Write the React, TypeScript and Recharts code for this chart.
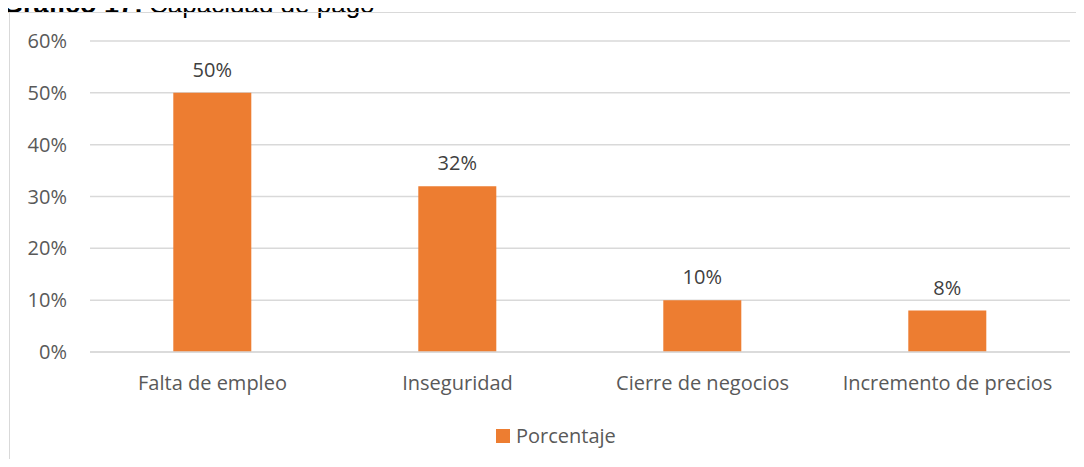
import * as React from "react";
import { Bar, BarChart, CartesianGrid, LabelList, XAxis, YAxis } from "recharts";

const categories = ["Falta de empleo", "Inseguridad", "Cierre de negocios", "Incremento de precios"];
const porcentaje = [0.5, 0.32, 0.1, 0.08];
const yTicks = [0, 0.1, 0.2, 0.3, 0.4, 0.5, 0.6];

const data = categories.map((name, i) => ({ name, porcentaje: porcentaje[i] }));

const pct = (v: number) => `${Math.round(v * 100)}%`;
const FONT = "'Open Sans', sans-serif";

export default function App() {
  return (
    <div style={{ position: "relative", margin: -8, width: 1084, height: 467, overflow: "hidden", background: "#fff" }}>
      <div
        style={{
          position: "absolute",
          left: 2,
          top: -9,
          fontFamily: "'Liberation Sans', Arial, sans-serif",
          fontSize: 26,
          lineHeight: 1,
          color: "#000",
          whiteSpace: "nowrap",
        }}
      >
        <b style={{ fontSize: 27, marginRight: 6 }}>Gráfico 17:</b>Capacidad de pago
      </div>
      <div
        style={{
          position: "absolute",
          left: 9,
          top: 12,
          width: 1200,
          height: 500,
          border: "1px solid #d9d9d9",
          boxSizing: "border-box",
          background: "transparent",
        }}
      />
      <div style={{ position: "absolute", left: 0, top: 0 }}>
        <BarChart
          width={1084}
          height={467}
          data={data}
          margin={{ top: 41, right: 14, bottom: 55, left: 0 }}
          barCategoryGap="34%"
        >
          <CartesianGrid vertical={false} stroke="#d9d9d9" strokeWidth={1.5} />
          <XAxis
            dataKey="name"
            height={60}
            axisLine={{ stroke: "#d9d9d9", strokeWidth: 1.5 }}
            tickLine={false}
            tickSize={0}
            tickMargin={24}
            interval={0}
            tick={{ fill: "#595959", fontSize: 20, fontFamily: FONT }}
          />
          <YAxis
            width={90}
            domain={[0, 0.6]}
            ticks={yTicks}
            tickFormatter={pct}
            axisLine={false}
            tickLine={false}
            tickSize={0}
            tickMargin={23}
            tick={{ fill: "#595959", fontSize: 20, fontFamily: FONT }}
          />
          <Bar dataKey="porcentaje" fill="#ED7D31" isAnimationActive={false}>
            <LabelList
              dataKey="porcentaje"
              position="top"
              offset={16}
              formatter={(v: any) => pct(Number(v))}
              style={{ fill: "#404040", fontSize: 20, fontFamily: FONT }}
            />
          </Bar>
        </BarChart>
      </div>
      <div
        style={{
          position: "absolute",
          left: 496,
          top: 422,
          display: "flex",
          alignItems: "center",
          fontFamily: FONT,
          fontSize: 20,
          lineHeight: "28px",
          color: "#595959",
        }}
      >
        <span style={{ width: 14, height: 14, background: "#ED7D31", display: "inline-block", marginRight: 6 }} />
        Porcentaje
      </div>
    </div>
  );
}
